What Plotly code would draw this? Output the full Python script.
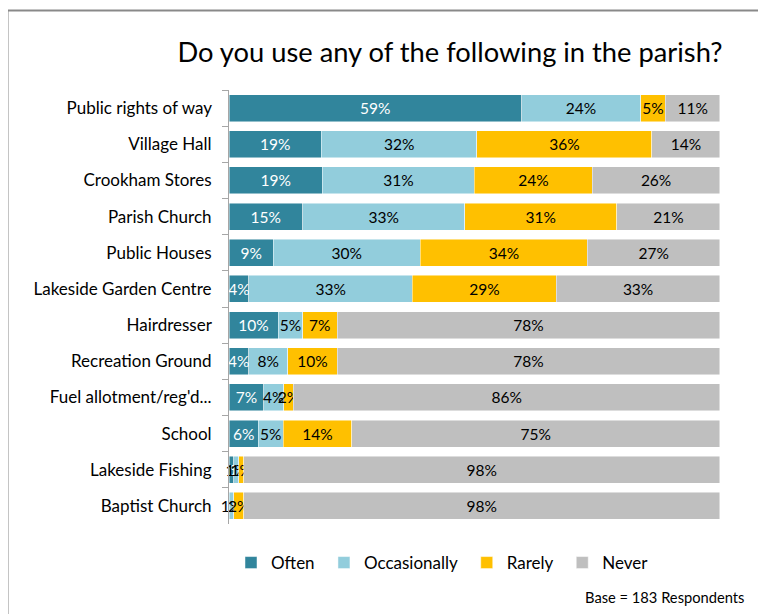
import plotly.graph_objects as go

categories = ["Public rights of way", "Village Hall", "Crookham Stores", "Parish Church",
              "Public Houses", "Lakeside Garden Centre", "Hairdresser", "Recreation Ground",
              "Fuel allotment/reg'd...", "School", "Lakeside Fishing", "Baptist Church"]
often = [59, 19, 19, 15, 9, 4, 10, 4, 7, 6, 1, 0]
occasionally = [24, 32, 31, 33, 30, 33, 5, 8, 4, 5, 1, 1]
rarely = [5, 36, 24, 31, 34, 29, 7, 10, 2, 14, 1, 2]
never = [11, 14, 26, 21, 27, 33, 78, 78, 86, 75, 98, 98]

NB = "\u00a0"
series = [("Often" + NB, often, "#31859C", "white"),
          ("Occasionally" + NB, occasionally, "#92CDDC", "black"),
          ("Rarely" + NB, rarely, "#FFC000", "black"),
          ("Never", never, "#BFBFBF", "black")]

FONT = "Lato"
# page body adds an 8px offset; margins compensate
L, T = 221, 82
PW, PH = 491, 434
fig = go.Figure()
for name, vals, color, tcol in series:
    fig.add_trace(go.Bar(
        name=name, y=categories, x=vals, orientation="h",
        marker=dict(color=color, line=dict(color="rgba(255,255,255,0.6)", width=0.8)),
        text=[f"{v}%" if v > 0 else "" for v in vals],
        texttemplate="%{text}", textposition="inside", insidetextanchor="middle",
        textangle=0,
        insidetextfont=dict(color=tcol, size=15.5, family=FONT),
        constraintext="none", cliponaxis=False, hoverinfo="skip",
    ))

fig.update_layout(
    barmode="stack", barnorm="percent", bargap=0.25,
    width=766, height=614,
    margin=dict(l=L, r=766 - L - PW, t=T, b=614 - T - PH),
    paper_bgcolor="white", plot_bgcolor="white",
    font=dict(family=FONT, size=15, color="#000000"),
    uniformtext=dict(minsize=15, mode="show"),
    title=dict(text="Do you use any of the following in the parish?",
               x=(450 - 8) / 766, xanchor="center", y=1 - (52 - 8) / 614, yanchor="middle",
               font=dict(size=27.3, family=FONT, color="black")),
    xaxis=dict(range=[0, 100.02], visible=False, fixedrange=True),
    yaxis=dict(autorange="reversed", showline=True, linecolor="#A6A6A6", linewidth=1,
               ticks="outside", tickson="boundaries", ticklen=6, tickcolor="#A6A6A6",
               tickfont=dict(size=17, family=FONT, color="black"), ticksuffix="   "),
    legend=dict(orientation="h", x=(231 - 229) / PW, xanchor="left",
                y=(524 - 545) / PH, yanchor="top",
                font=dict(size=17, family=FONT), traceorder="normal", itemwidth=30),
    shapes=[dict(type="rect", xref="paper", yref="paper", x0=(7.5 - 229) / PW, x1=1.3,
                 y0=-0.4, y1=(524 - 10.5) / PH, line=dict(color="#898989", width=2))],
    annotations=[dict(text="Base = 183 Respondents", xref="paper", yref="paper",
                      x=(746 - 229) / PW, y=(524 - 597) / PH, xanchor="right",
                      yanchor="middle", showarrow=False, font=dict(size=14.7, family=FONT))],
)

fig.write_html("out.html")
